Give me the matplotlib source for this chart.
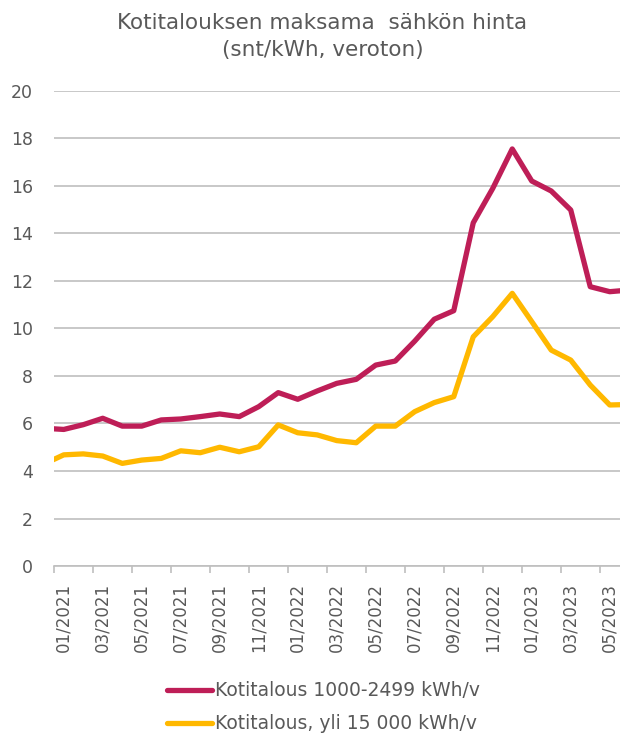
import numpy as np
import matplotlib.pyplot as plt

# months shown on the axis run 01/2021..05/2023; one extra point on each side is clipped at the plot edge
months = ["12/2020",
          "01/2021", "02/2021", "03/2021", "04/2021", "05/2021", "06/2021",
          "07/2021", "08/2021", "09/2021", "10/2021", "11/2021", "12/2021",
          "01/2022", "02/2022", "03/2022", "04/2022", "05/2022", "06/2022",
          "07/2022", "08/2022", "09/2022", "10/2022", "11/2022", "12/2022",
          "01/2023", "02/2023", "03/2023", "04/2023", "05/2023",
          "06/2023"]

small_home = [5.80,
              5.75, 5.95, 6.22, 5.89, 5.89, 6.15, 6.19, 6.29, 6.40, 6.29,
              6.71, 7.30, 7.02, 7.37, 7.69, 7.86, 8.46, 8.63, 9.47, 10.39,
              10.75, 14.45, 15.90, 17.56, 16.21, 15.79, 14.99, 11.76, 11.55,
              11.62]
large_home = [4.30,
              4.68, 4.72, 4.63, 4.32, 4.46, 4.53, 4.85, 4.77, 5.00, 4.81,
              5.02, 5.94, 5.61, 5.52, 5.28, 5.19, 5.89, 5.89, 6.50, 6.88,
              7.13, 9.65, 10.50, 11.48, 10.29, 9.09, 8.67, 7.62, 6.78,
              6.80]

series_names = ["Kotitalous 1000-2499 kWh/v", "Kotitalous, yli 15 000 kWh/v"]
colors = ["#BE1E57", "#FFB800"]
title = "Kotitalouksen maksama  sähkön hinta\n(snt/kWh, veroton)"

grey_text = "#595959"
grid_col = "#BFBFBF"

x = np.arange(len(months)) - 1

fig = plt.figure(figsize=(6.2, 7.35), dpi=100)
ax = fig.add_axes([54 / 620, 1 - 566 / 735, 565.5 / 620, 475 / 735])

for vals, name, col in zip([small_home, large_home], series_names, colors):
    ax.plot(x, vals, color=col, lw=3.8, label=name, solid_joinstyle="round",
            solid_capstyle="round", zorder=3)

ax.set_xlim(-0.5, 28.5)
ax.set_ylim(0, 20)
ax.set_yticks(np.arange(0, 21, 2))
ax.yaxis.grid(True, color=grid_col, lw=1.2)
ax.set_axisbelow(True)

for side in ["top", "right", "left"]:
    ax.spines[side].set_visible(False)
ax.spines["bottom"].set_color(grid_col)
ax.spines["bottom"].set_linewidth(1.2)

# labels sit in the middle of categories, tick marks between them every 2 months
label_pos = x[1:-1:2]
ax.set_xticks(label_pos)
ax.set_xticklabels(months[1:-1:2], rotation=90, fontsize=12, color=grey_text)
ax.set_xticks(np.arange(-0.5, 28.6, 2), minor=True)
ax.tick_params(axis="x", which="major", length=0, pad=12)
ax.tick_params(axis="x", which="minor", length=5, color=grid_col, width=1.2)
ax.tick_params(axis="y", length=0, pad=15, labelsize=12.5, labelcolor=grey_text)

fig.text(0.52, 0.982, title, ha="center", va="top", fontsize=15.5,
         color=grey_text, linespacing=1.45)

fig.legend(loc="upper center", bbox_to_anchor=(0.522, 0.096), frameon=False,
           fontsize=13.5, labelcolor=grey_text, handlelength=2.4,
           handletextpad=0.15, labelspacing=0.75, ncol=1)

fig.savefig("out.png", dpi=100)
